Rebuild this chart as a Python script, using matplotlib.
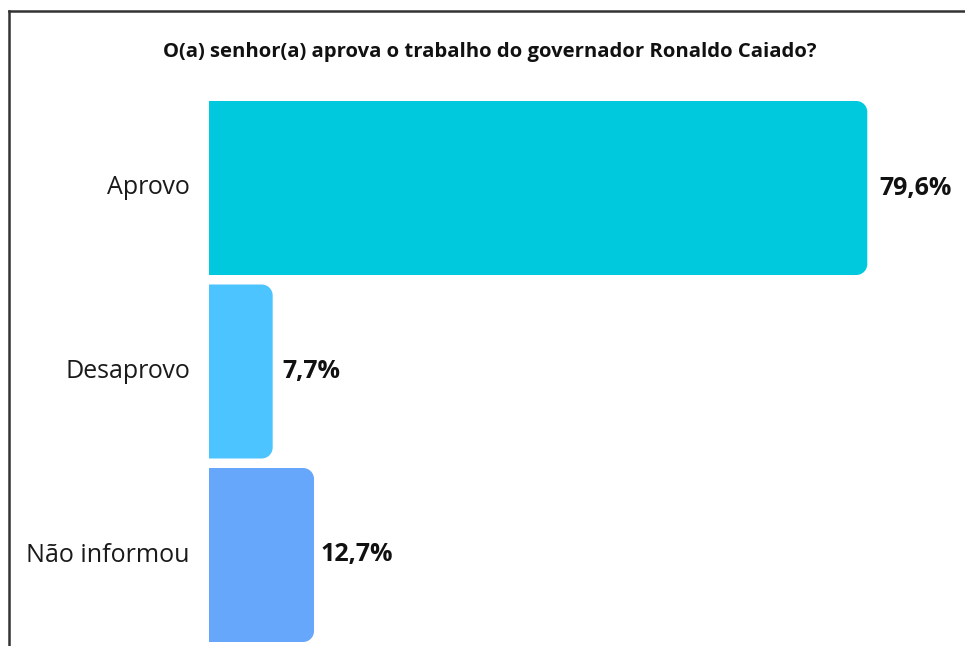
import os
import matplotlib
matplotlib.use("Agg")
import matplotlib.pyplot as plt
from matplotlib.path import Path
from matplotlib.patches import PathPatch
from matplotlib.lines import Line2D
from matplotlib.font_manager import FontProperties

categories = ["Aprovo", "Desaprovo", "Não informou"]
values = [79.6, 7.7, 12.7]
value_labels = ["79,6%", "7,7%", "12,7%"]
colors = ["#00C9DD", "#4CC4FF", "#66A6FB"]
title = "O(a) senhor(a) aprova o trabalho do governador Ronaldo Caiado?"

# style: pixel gap between bar end and its value label
label_gaps = [12, 10, 6]

plt.rcParams['font.family'] = ['Open Sans', 'DejaVu Sans']

reg_path = "/usr/share/fonts/truetype/open-sans/OpenSans-Regular.ttf"
bold_path = "/usr/share/fonts/truetype/open-sans/OpenSans-Bold.ttf"


def fp(path, size, weight):
    if os.path.exists(path):
        return FontProperties(fname=path, size=size)
    return FontProperties(family=['Open Sans', 'DejaVu Sans'], size=size, weight=weight)


W, H = 965, 646
fig = plt.figure(figsize=(W / 100, H / 100), dpi=100)
fig.patch.set_facecolor("white")

ax_left_px = 209
px_per_unit = 8.27
pitch = 183.5
center0 = 188

ax = fig.add_axes([ax_left_px / W, 0, 1 - ax_left_px / W, 1])
xmax = (W - ax_left_px) / px_per_unit
ax.set_xlim(0, xmax)
ytop = 0 - center0 / pitch
ybot = 0 + (H - center0) / pitch
ax.set_ylim(ybot, ytop)
ax.axis("off")

bar_h = 174 / pitch
bars = ax.barh(range(len(categories)), values, height=bar_h, color=colors)

r_px = 11
rx = r_px / px_per_unit
ry = r_px / pitch
k = 0.5523
for rect, c in zip(bars.patches, colors):
    x0, y0 = rect.get_x(), rect.get_y()
    w, h = rect.get_width(), rect.get_height()
    x1, y1 = x0 + w, y0 + h
    verts = [
        (x0, y0), (x1 - rx, y0),
        (x1 - rx + k * rx, y0), (x1, y0 + ry - k * ry), (x1, y0 + ry),
        (x1, y1 - ry),
        (x1, y1 - ry + k * ry), (x1 - rx + k * rx, y1), (x1 - rx, y1),
        (x0, y1), (x0, y0),
    ]
    codes = [Path.MOVETO, Path.LINETO,
             Path.CURVE4, Path.CURVE4, Path.CURVE4,
             Path.LINETO,
             Path.CURVE4, Path.CURVE4, Path.CURVE4,
             Path.LINETO, Path.CLOSEPOLY]
    rect.set_visible(False)
    ax.add_patch(PathPatch(Path(verts, codes), facecolor=c, edgecolor="none"))

for i, (v, lab, cat, gap) in enumerate(zip(values, value_labels, categories, label_gaps)):
    ax.annotate(lab, (v, i), xytext=(gap, 0), textcoords="offset pixels",
                ha="left", va="center", fontproperties=fp(bold_path, 18, "bold"),
                color="#111111")
    ax.annotate(cat, (0, i), xytext=(-19, 0), textcoords="offset pixels",
                ha="right", va="center", fontproperties=fp(reg_path, 18, "normal"),
                color="#1a1a1a")

fig.text(490 / W, 1 - 52 / H, title, ha="center", va="center",
         fontproperties=fp(bold_path, 14.6, "bold"), color="#111111")

fig.add_artist(Line2D([9 / W, 9 / W], [0, 1 - 11 / H], color="#333333", lw=1.8,
                      transform=fig.transFigure))
fig.add_artist(Line2D([9 / W, 1], [1 - 11 / H, 1 - 11 / H], color="#333333", lw=1.8,
                      transform=fig.transFigure))

fig.savefig("out.png", dpi=100)
